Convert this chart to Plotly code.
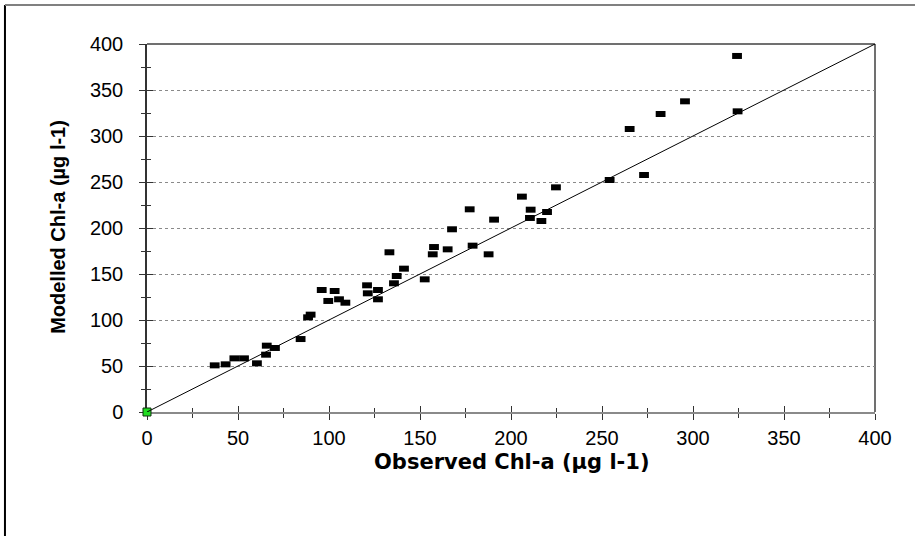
import plotly.graph_objects as go

# Observed vs modelled Chl-a (µg l-1)
observed = [37.2, 43.2, 48.0, 53.3, 60.4, 65.4, 65.8, 70.3, 84.4, 88.5, 89.9,
            96.0, 99.6, 103.1, 105.5, 109.0, 120.9, 121.3, 126.9, 126.9, 133.2,
            135.7, 137.2, 141.2, 152.6, 157.0, 157.7, 165.2, 167.6, 177.3, 178.9,
            187.7, 190.7, 206.0, 210.4, 210.8, 216.7, 219.8, 224.7, 254.2, 265.2,
            273.1, 282.2, 295.6, 324.2, 324.5]
modelled = [50.7, 51.8, 58.3, 58.3, 52.9, 62.3, 72.1, 69.6, 79.3, 102.9, 105.8,
            132.6, 120.7, 131.5, 122.5, 118.8, 137.7, 129.0, 132.6, 122.5, 173.6,
            139.9, 147.8, 155.8, 144.2, 171.4, 179.3, 176.8, 198.6, 220.3, 180.8,
            171.4, 209.1, 234.1, 210.9, 219.9, 207.6, 217.4, 244.2, 252.2, 307.6,
            257.6, 323.9, 337.7, 387.0, 326.8]
origin_x = [0]
origin_y = [0]
line_x = [0, 400]
line_y = [0, 400]
tick_vals = [0, 50, 100, 150, 200, 250, 300, 350, 400]
tick_text = ["0", "50", "100", "150", "200", "250", "300", "350", "400"]
x_title = "Observed Chl-a (µg l-1)"
y_title = "Modelled Chl-a (µg l-1)"

tick_font = dict(family="Liberation Sans, Arial", size=20, color="black")

fig = go.Figure()
fig.add_trace(go.Scatter(x=line_x, y=line_y, mode="lines",
                         line=dict(color="black", width=1),
                         xaxis="x2", yaxis="y2", showlegend=False, hoverinfo="skip"))
fig.add_trace(go.Scatter(x=observed, y=modelled, mode="markers",
                         marker=dict(symbol="line-ew", size=7,
                                     line=dict(color="black", width=6)),
                         showlegend=False))
fig.add_trace(go.Scatter(x=origin_x, y=origin_y, mode="markers",
                         marker=dict(symbol="square", size=8, color="#22dd22",
                                     line=dict(color="#113311", width=1)),
                         showlegend=False, cliponaxis=False))

common_x = dict(range=[0, 400], tickvals=tick_vals, ticktext=tick_text,
                showgrid=False, zeroline=False, tickwidth=1, tickcolor="#333333",
                ticklen=6, layer="below traces")
common_y = dict(range=[0, 400], tickvals=tick_vals, ticktext=tick_text,
                zeroline=False, tickwidth=1, tickcolor="#333333", ticklen=6,
                layer="below traces")

fig.update_layout(
    width=915, height=536,
    margin=dict(l=147, r=40, t=44, b=124),
    paper_bgcolor="white", plot_bgcolor="white",
    xaxis=dict(**common_x, ticks="outside", showline=True, linecolor="#8a8a8a",
               linewidth=2, tickfont=tick_font, ticklabelstandoff=1,
               minor=dict(ticks="outside", ticklen=4, dtick=25, tick0=0,
                          tickcolor="#333333", showgrid=False)),
    yaxis=dict(**common_y, ticks="outside", showline=True, linecolor="#333333",
               linewidth=1.5, tickfont=tick_font, ticklabelstandoff=12,
               showgrid=True, gridcolor="#8a8a8a", griddash="dot", gridwidth=1,
               minor=dict(ticks="outside", ticklen=4, dtick=25, tick0=0,
                          tickcolor="#333333", showgrid=False)),
    xaxis2=dict(**common_x, overlaying="x", anchor="y2", ticks="inside",
                showticklabels=False, showline=False,
                minor=dict(ticks="inside", ticklen=4, dtick=25, tick0=0,
                           tickcolor="#333333")),
    yaxis2=dict(**common_y, overlaying="y", anchor="x2", ticks="inside",
                showticklabels=False, showline=False, showgrid=False,
                minor=dict(ticks="inside", ticklen=4, dtick=25, tick0=0,
                           tickcolor="#333333")),
    annotations=[
        dict(text="<b>" + x_title + "</b>", xref="paper", yref="paper",
             x=0.5014, y=-0.136, xanchor="center", yanchor="middle",
             showarrow=False, font=dict(family="DejaVu Sans", size=21, color="black")),
        dict(text="<b>" + y_title + "</b>", xref="paper", yref="paper",
             x=-0.1223, y=0.503, xanchor="center", yanchor="middle", textangle=-90,
             showarrow=False, font=dict(family="Liberation Sans, Arial", size=20, color="black")),
    ],
    shapes=[
        # plot-area top and right frame
        dict(type="line", xref="paper", yref="paper", x0=0, x1=1, y0=1, y1=1,
             line=dict(color="#404040", width=1.5), layer="below"),
        dict(type="line", xref="paper", yref="paper", x0=1, x1=1, y0=0, y1=1,
             line=dict(color="#404040", width=1.5), layer="below"),
        # outer chart border (left and top)
        dict(type="line", xref="paper", yref="paper", x0=-0.1951, x1=-0.1951,
             y0=-0.34, y1=1.106, line=dict(color="black", width=2)),
        dict(type="line", xref="paper", yref="paper", x0=-0.1951, x1=1.06,
             y0=1.106, y1=1.106, line=dict(color="#808080", width=2)),
    ],
)

fig.write_html("out.html")
